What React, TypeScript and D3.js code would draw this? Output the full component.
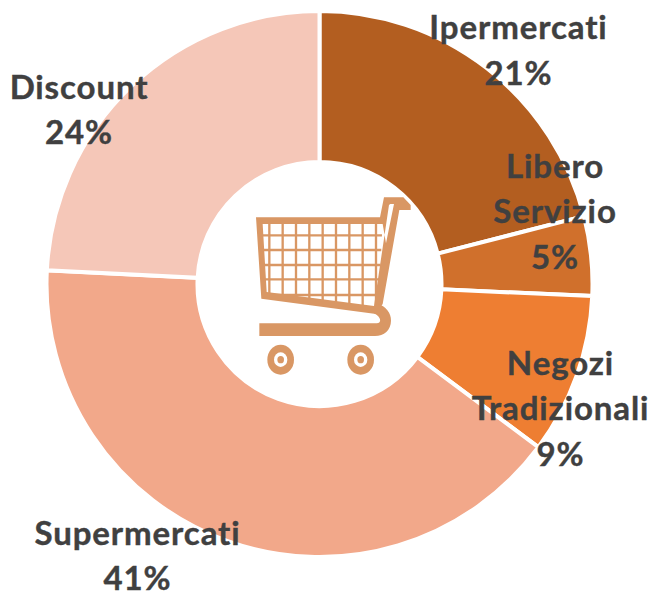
import React from "react";
import * as d3 from "d3";

const categories = ["Ipermercati", "Libero Servizio", "Negozi Tradizionali", "Supermercati", "Discount"];
const shares = [21, 4.7, 9.5, 40.6, 24.2];
const shareLabels = ["21%", "5%", "9%", "41%", "24%"];
const sliceColors = ["#B35E20", "#D0702C", "#EE7E32", "#F2A88A", "#F5C7B8"];
const labelLines = [["Ipermercati"], ["Libero", "Servizio"], ["Negozi", "Tradizionali"], ["Supermercati"], ["Discount"]];

const WIDTH = 655, HEIGHT = 593;
const CX = 319.5, CY = 284, R_OUT = 273, R_IN = 122;
const LINE = 45.5;
// label anchor: centre x and baseline of the first line
const labelAnchors: [number, number][] = [[518.5, 39], [555, 177.5], [560.5, 374.5], [137.5, 544.5], [79, 98.5]];

const CART = "#D99764";
const gridX = [238, 278, 318, 358, 398, 438, 478, 518, 558];
const gridY = [226, 270, 315, 358, 405];
const wheelX = [272, 512];

export default function App() {
  const pie = d3.pie<number>().value(d => d).sort(null);
  const arc = d3.arc<d3.PieArcDatum<number>>().innerRadius(R_IN).outerRadius(R_OUT);
  const arcs = pie(shares);
  return (
    <svg width={WIDTH} height={HEIGHT} viewBox={`0 0 ${WIDTH} ${HEIGHT}`}
      style={{ position: "absolute", left: 0, top: 0, display: "block", background: "#fff" }}>
      <g transform={`translate(${CX},${CY})`}>
        {arcs.map((a, i) => (
          <path key={categories[i]} d={arc(a) ?? ""} fill={sliceColors[i]} stroke="#fff" strokeWidth={4} />
        ))}
      </g>
      <g transform="translate(190,160) scale(0.33333)">
        <clipPath id="basket"><path d="M206,180 H578 L566,440 L222,405 Z" /></clipPath>
        <g clipPath="url(#basket)" stroke={CART} strokeWidth={7}>
          {gridX.map(x => <line key={x} x1={x} x2={x} y1={175} y2={450} />)}
          {gridY.map(y => <line key={y} x1={200} x2={590} y1={y} y2={y} />)}
        </g>
        <path d="M198,172 H570 L582,112 H640 L662,135 V150 H628 L578,432 L558,462 L214,416 Z M218,192 L230,396 L552,438 L597,135 L601,132 H612 L588,250 L578,192 Z"
          fill={CART} fillRule="evenodd" />
        <path d="M208,490 H560 C576,490 574,470 552,460 L560,430 C590,440 603,460 603,482 C603,510 582,528 555,528 H208 Z" fill={CART} />
        {wheelX.map(x => (
          <g key={x}>
            <ellipse cx={x} cy={599} rx={40} ry={45} fill={CART} />
            <ellipse cx={x} cy={599} rx={20} ry={22} fill="#fff" />
            <ellipse cx={x} cy={599} rx={10} ry={11} fill={CART} />
          </g>
        ))}
      </g>
      <g fontFamily="Lato, sans-serif" fontWeight={700} fontSize={33} letterSpacing={0.9} fill="#404040"
        stroke="#404040" strokeWidth={0.4} textAnchor="middle">
        {labelLines.map((lines, i) => {
          const [x, y] = labelAnchors[i];
          return (
            <text key={categories[i]}>
              {[...lines, shareLabels[i]].map((t, j) => (
                <tspan key={j} x={x} y={y + j * LINE}>{t}</tspan>
              ))}
            </text>
          );
        })}
      </g>
    </svg>
  );
}
